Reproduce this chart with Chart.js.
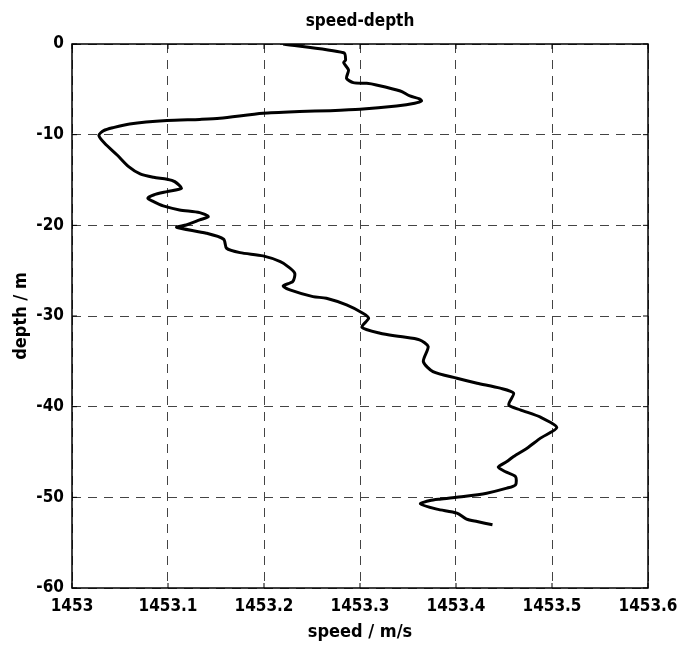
<!DOCTYPE html>
<html>
<head>
<meta charset="utf-8">
<script src="https://cdn.jsdelivr.net/npm/chart.js@4.4.1/dist/chart.umd.min.js"></script>
<style>
  html, body { margin: 0; padding: 0; background: #fff; }
  #wrap { width: 678px; height: 645px; }
</style>
</head>
<body>
<div id="wrap"><canvas id="speedDepthChart" width="678" height="645"></canvas></div>
<script>
// values
const speed = [
  1453.220, 1453.283, 1453.285, 1453.283, 1453.288, 1453.286, 1453.293, 1453.307, 1453.317, 1453.342,
  1453.352, 1453.362, 1453.364, 1453.357, 1453.338, 1453.300, 1453.269, 1453.237, 1453.199, 1453.154,
  1453.133, 1453.099, 1453.060, 1453.043, 1453.033, 1453.028, 1453.034, 1453.047, 1453.059, 1453.071,
  1453.085, 1453.099, 1453.107, 1453.114, 1453.099, 1453.085, 1453.079, 1453.085, 1453.095, 1453.112,
  1453.133, 1453.142, 1453.133, 1453.119, 1453.109, 1453.140, 1453.158, 1453.161, 1453.175, 1453.199,
  1453.217, 1453.225, 1453.232, 1453.230, 1453.220, 1453.227, 1453.251, 1453.265, 1453.286, 1453.303,
  1453.309, 1453.302, 1453.321, 1453.342, 1453.362, 1453.371, 1453.366, 1453.376, 1453.401, 1453.422,
  1453.446, 1453.460, 1453.455, 1453.467, 1453.488, 1453.505, 1453.488, 1453.474, 1453.460, 1453.453,
  1453.444, 1453.451, 1453.462, 1453.462, 1453.453, 1453.432, 1453.408, 1453.383, 1453.373, 1453.363,
  1453.380, 1453.401, 1453.411, 1453.422, 1453.438
];
const depth = [
  0, -0.96, -1.76, -2.06, -2.87, -3.79, -4.26, -4.34, -4.52, -5.18,
  -5.73, -6.06, -6.28, -6.54, -6.84, -7.20, -7.35, -7.45, -7.64, -8.20,
  -8.32, -8.45, -8.82, -9.22, -9.55, -10.07, -10.95, -12.24, -13.53, -14.33,
  -14.70, -14.92, -15.18, -15.91, -16.28, -16.65, -17.01, -17.39, -17.86, -18.30,
  -18.60, -19.04, -19.40, -19.96, -20.21, -20.87, -21.53, -22.53, -23.01, -23.37,
  -24.00, -24.55, -25.28, -26.20, -26.68, -27.12, -27.86, -28.04, -28.78, -29.69,
  -30.24, -31.24, -31.90, -32.27, -32.63, -33.37, -35.03, -36.13, -36.86, -37.41,
  -37.96, -38.51, -39.80, -40.35, -41.16, -42.30, -43.47, -44.58, -45.50, -46.05,
  -46.67, -47.15, -47.71, -48.62, -48.99, -49.54, -49.91, -50.20, -50.35, -50.72,
  -51.30, -51.74, -52.40, -52.67, -53.03
];
const xTickLabels = ['1453', '1453.1', '1453.2', '1453.3', '1453.4', '1453.5', '1453.6'];
const yTickLabels = ['-60', '-50', '-40', '-30', '-20', '-10', '0'];

const FONT = '"Liberation Sans Narrow", "Arial Narrow", "DejaVu Sans Condensed", sans-serif';

// frame round the plot plus small inward ticks, matlab style
const frameBox = {
  id: 'frameBox',
  afterDatasetsDraw(chart) {
    const { ctx, chartArea: a, scales } = chart;
    ctx.save();
    ctx.strokeStyle = '#000';
    ctx.lineWidth = 1.5;
    ctx.strokeRect(a.left, a.top, a.right - a.left, a.bottom - a.top);
    ctx.lineWidth = 1;
    ctx.beginPath();
    scales.x.ticks.forEach(t => {
      const px = scales.x.getPixelForValue(t.value);
      ctx.moveTo(px, a.bottom); ctx.lineTo(px, a.bottom - 5);
      ctx.moveTo(px, a.top); ctx.lineTo(px, a.top + 5);
    });
    scales.y.ticks.forEach(t => {
      const py = scales.y.getPixelForValue(t.value);
      ctx.moveTo(a.left, py); ctx.lineTo(a.left + 5, py);
      ctx.moveTo(a.right, py); ctx.lineTo(a.right - 5, py);
    });
    ctx.stroke();
    ctx.restore();
  }
};

document.addEventListener('DOMContentLoaded', () => {
  renderChart();
});

function renderChart() {
  const points = speed.map((s, i) => ({ x: s, y: depth[i] }));
  const ctx = document.getElementById('speedDepthChart').getContext('2d');
  new Chart(ctx, {
    type: 'scatter',
    data: {
      datasets: [{
        data: points,
        showLine: true,
        borderColor: '#000',
        borderWidth: 3,
        pointRadius: 0,
        tension: 0.25,
        fill: false
      }]
    },
    options: {
      responsive: false,
      animation: false,
      layout: { padding: { top: 0, left: 0, right: 30, bottom: 0 } },
      plugins: {
        legend: { display: false },
        tooltip: { enabled: false },
        title: {
          display: true,
          text: 'speed-depth',
          fullSize: false,
          color: '#000',
          font: { family: FONT, size: 17, weight: 'bold' },
          padding: { top: 11, bottom: 12.6 }
        }
      },
      scales: {
        x: {
          type: 'linear',
          min: 1453,
          max: 1453.6,
          ticks: {
            stepSize: 0.1,
            color: '#000',
            padding: 8,
            maxRotation: 0,
            font: { family: FONT, size: 17, weight: 'bold' },
            callback: (v, i) => xTickLabels[i]
          },
          grid: {
            color: '#444',
            lineWidth: 1,
            drawTicks: false
          },
          border: { display: false, dash: [9, 7] },
          title: {
            display: true,
            text: 'speed / m/s',
            color: '#000',
            font: { family: FONT, size: 18, weight: 'bold' },
            padding: { bottom: 2 }
          },
          afterFit: scale => {
            scale.height = 57;
            scale.paddingLeft = 0;
            scale.paddingRight = 0;
          }
        },
        y: {
          type: 'linear',
          min: -60,
          max: 0,
          ticks: {
            stepSize: 10,
            color: '#000',
            padding: 8,
            font: { family: FONT, size: 17, weight: 'bold' },
            callback: (v, i) => yTickLabels[i]
          },
          grid: {
            color: '#444',
            lineWidth: 1,
            drawTicks: false
          },
          border: { display: false, dash: [9, 7] },
          title: {
            display: true,
            text: 'depth / m',
            color: '#000',
            font: { family: FONT, size: 18, weight: 'bold' },
            padding: { top: 11 }
          },
          afterFit: scale => {
            scale.width = 72;
            scale.paddingTop = 0;
            scale.paddingBottom = 0;
          }
        }
      }
    },
    plugins: [frameBox]
  });
}
</script>
</body>
</html>
